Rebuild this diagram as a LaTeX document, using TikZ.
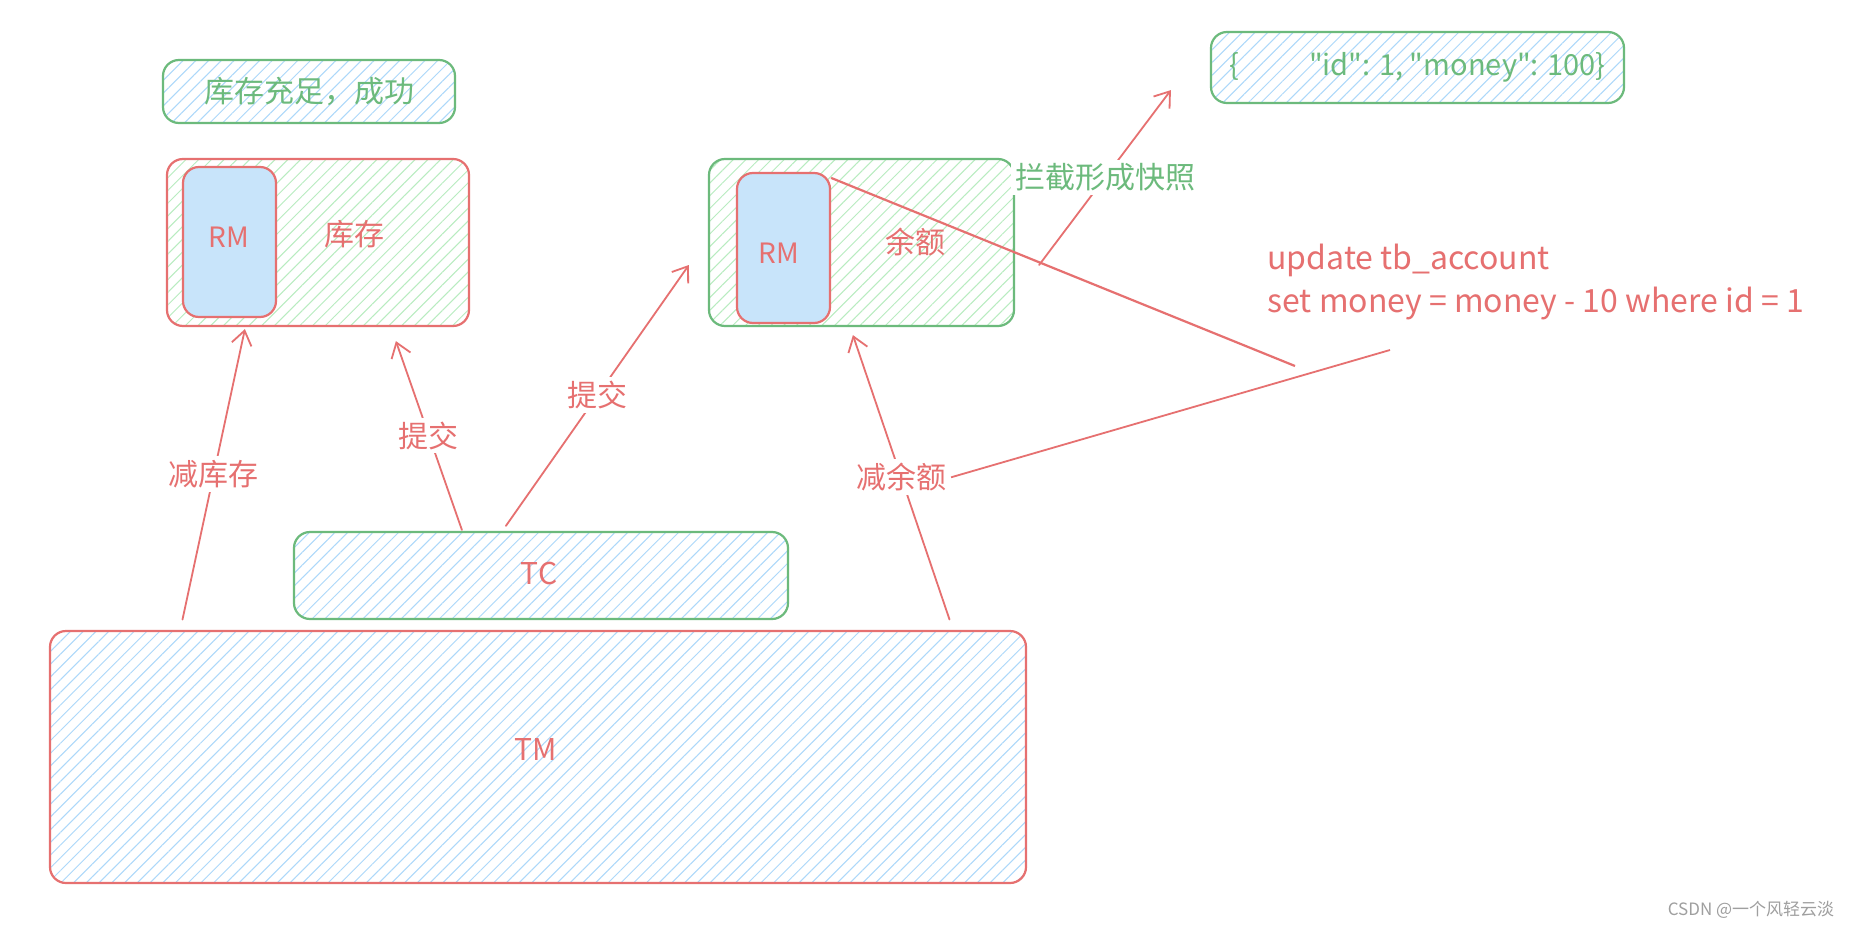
\documentclass[tikz,border=0pt]{standalone}
\usepackage{fontspec}
\setmainfont{Noto Sans CJK SC}
\newfontfamily\codefont{Noto Sans CJK SC}
\usetikzlibrary{arrows.meta,patterns.meta}
\definecolor{skRed}{RGB}{230,112,112}
\definecolor{skGreen}{RGB}{108,186,124}
\definecolor{hBlue}{RGB}{172,216,250}
\definecolor{hGreen}{RGB}{184,236,192}
\definecolor{rmBlue}{RGB}{200,228,250}
\begin{document}
\begin{tikzpicture}[x=1pt,y=-1pt,>={Straight Barb[length=14pt,width=20pt]},
    font=\fontsize{30}{36}\selectfont,
    box/.style={rounded corners=16pt,line width=2.2pt,inner sep=0pt},
    hb/.style={pattern={Lines[angle=45,distance=9pt,line width=1pt]},pattern color=hBlue},
    hg/.style={pattern={Lines[angle=45,distance=9pt,line width=1pt]},pattern color=hGreen},
    lbl/.style={fill=white,inner sep=4pt,text=skRed},
    conn/.style={->,draw=skRed,line width=1.8pt,line cap=round}]
  \fill[white] (0,0) rectangle (1871,931);
  \useasboundingbox (0,0) rectangle (1871,931);
  % bottom boxes
  \node[box,hb,draw=skRed,minimum width=976pt,minimum height=252pt] (tm) at (538,757) {};
  \node[text=skRed] (tmTxt) at (536,749) {TM};
  \node[box,hb,draw=skGreen,minimum width=494pt,minimum height=87pt] (tc) at (541,575.5) {};
  \node[text=skRed] (tcTxt) at (539,573) {TC};
  % stock side
  \node[box,hb,draw=skGreen,minimum width=292pt,minimum height=63pt,text=skGreen] (ok) at (309,91.5) {库存充足，成功};
  \node[box,hg,draw=skRed,minimum width=302pt,minimum height=167pt] (stock) at (318,242.5) {};
  \node[box,fill=rmBlue,draw=skRed,minimum width=93pt,minimum height=150pt] (rmA) at (229.5,242) {};
  \node[text=skRed,font=\fontsize{28}{30}\selectfont] (rmATxt) at (229,237) {RM};
  \node[text=skRed] (stockTxt) at (354,234) {库存};
  % balance side
  \node[box,hg,draw=skGreen,minimum width=305pt,minimum height=167pt] (bal) at (861.5,242.5) {};
  \node[box,fill=rmBlue,draw=skRed,minimum width=93pt,minimum height=150pt] (rmB) at (783.5,248) {};
  \node[text=skRed,font=\fontsize{28}{30}\selectfont] (rmBTxt) at (779,253) {RM};
  \node[text=skRed] (balTxt) at (915,242) {余额};
  \node[box,hb,draw=skGreen,minimum width=413pt,minimum height=71pt,text=skGreen,font=\codefont\fontsize{29}{30}\selectfont] (json) at (1417.5,67.5) {\{\hspace{70pt}"id": 1, "money": 100\}};
  \node[anchor=north west,align=left,text=skRed,font=\fontsize{32}{43}\selectfont] (sql) at (1264,240) {update tb\_account\\set money = money - 10 where id = 1};
  \coordinate (sqlA) at (1390,350);
  \coordinate (sqlB) at (1295,366);
  % arrows
  \draw[conn] ([xshift=133pt,yshift=11pt]tm.north west) -- node[lbl] (lblStock) {减库存} ([xshift=79pt,yshift=-2pt]stock.south west);
  \draw[conn] ([xshift=169pt,yshift=1pt]tc.north west) -- node[lbl] (lblSubA) {提交} ([xshift=230pt,yshift=-14pt]stock.south west);
  \draw[conn] ([xshift=213pt,yshift=5pt]tc.north west) -- node[lbl] (lblSubB) {提交} ([xshift=-19pt,yshift=-22.5pt]bal.west);
  \draw[conn] ([xshift=-77pt,yshift=11pt]tm.north east) -- node[lbl] (lblBal) {减余额} ([xshift=145pt,yshift=-8pt]bal.south west);
  \draw[conn] ([xshift=24pt,yshift=-22.5pt]bal.east) -- node[lbl,text=skGreen] (lblSnap) {拦截形成快照} ([xshift=-39pt,yshift=14pt]json.south west);
  \draw[draw=skRed,line width=1.8pt] (lblBal.east) -- (sqlA);
  \draw[draw=skRed,line width=2.2pt] ([yshift=-6pt]rmB.north east) -- (sqlB);
  \node[text=gray!75,font=\fontsize{17}{20}\selectfont] (mark) at (1751,910) {CSDN @一个风轻云淡};
\end{tikzpicture}
\end{document}
